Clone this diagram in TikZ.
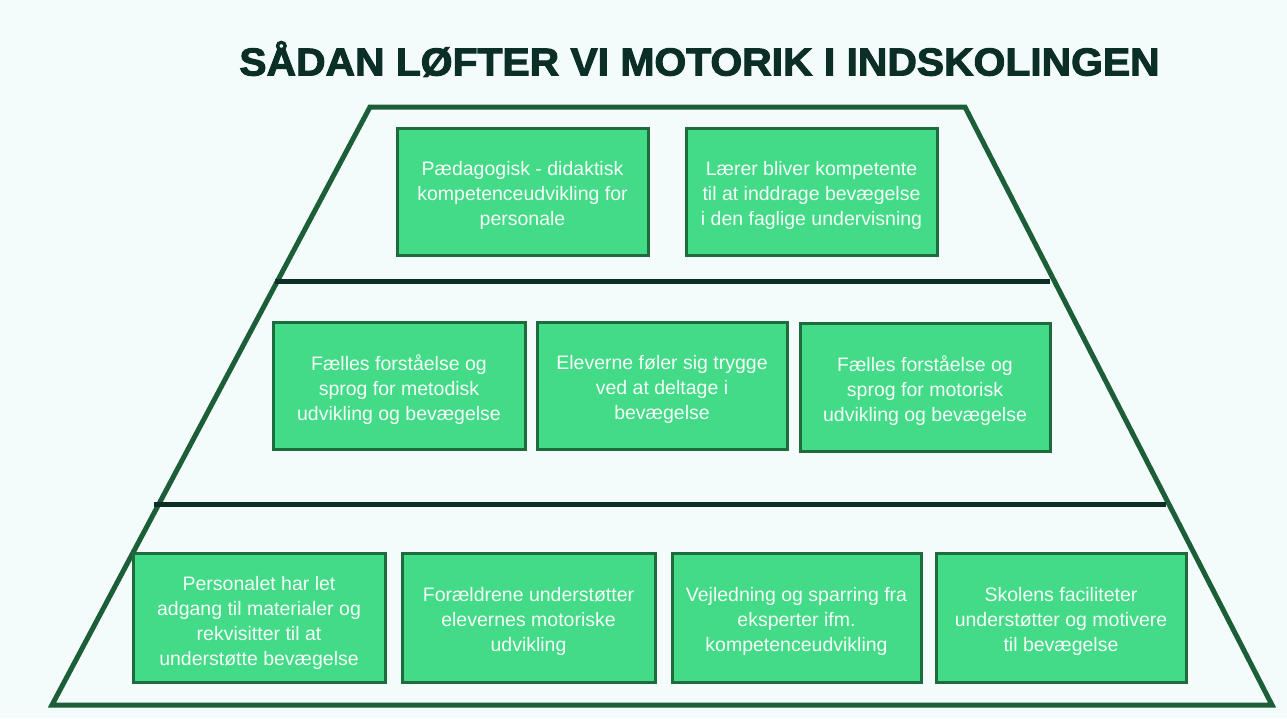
\documentclass[tikz,border=0pt]{standalone}
\usepackage{fontspec}
\setmainfont{Liberation Sans}
\newfontfamily\titlefont{Liberation Sans}[BoldFeatures={FakeBold=2.5}]
\definecolor{bgc}{HTML}{F4FCFB}
\definecolor{titlec}{HTML}{0B2E26}
\definecolor{trapc}{HTML}{1B5E38}
\definecolor{divc}{HTML}{0B2E26}
\definecolor{boxfill}{HTML}{43DA88}
\definecolor{boxline}{HTML}{1E6B3E}
\definecolor{boxtext}{HTML}{F5FFF8}
\begin{document}
\begin{tikzpicture}[x=1pt,y=-1pt,
  card/.style={draw=boxline,line width=3pt,fill=boxfill,inner sep=0pt},
  cardtext/.style={text=boxtext,align=center,inner sep=0pt,yshift=-4pt,
    font=\fontsize{19.5}{25}\selectfont},
  trap/.style={draw=trapc,line width=5pt,line join=miter},
  divider/.style={draw=divc,line width=5pt}]
\fill[bgc] (0,0) rectangle (1287,718);
\useasboundingbox (0,0) rectangle (1287,718);
% title
\node[text=titlec,anchor=center,inner sep=0pt] (title) at (699.5,59)
  {\scalebox{1.047}[1.0]{\fontsize{39}{39}\selectfont\titlefont\bfseries SÅDAN LØFTER VI MOTORIK I INDSKOLINGEN}};
% trapezoid
\coordinate (tl) at (370,107);
\coordinate (tr) at (965,107);
\coordinate (br) at (1272,705);
\coordinate (bl) at (52,705);
\draw[trap] (tl) -- (tr) -- (br) -- (bl) -- cycle;
% dividers
\coordinate (d1a) at (275,281);
\coordinate (d1b) at (1050,281);
\coordinate (d2a) at (154,504);
\coordinate (d2b) at (1166,504);
\draw[divider] (d1a) -- (d1b);
\draw[divider] (d2a) -- (d2b);
% row 1
\node[card,minimum width=251pt,minimum height=127pt,
  label={[cardtext]center:Pædagogisk - didaktisk\\kompetenceudvikling for\\personale}] (a1) at (522.5,191.5) {};
\node[card,minimum width=251pt,minimum height=127pt,
  label={[cardtext]center:Lærer bliver kompetente\\til at inddrage bevægelse\\i den faglige undervisning}] (a2) at (811.5,191.5) {};
% row 2
\node[card,minimum width=252pt,minimum height=127pt,
  label={[cardtext]center:Fælles forståelse og\\sprog for metodisk\\udvikling og bevægelse}] (b1) at (399,385.5) {};
\node[card,minimum width=250pt,minimum height=127pt,
  label={[cardtext]center:Eleverne føler sig trygge\\ved at deltage i\\bevægelse}] (b2) at (662,385.5) {};
\node[card,minimum width=250pt,minimum height=128pt,
  label={[cardtext]center:Fælles forståelse og\\sprog for motorisk\\udvikling og bevægelse}] (b3) at (925,387) {};
% row 3
\node[card,minimum width=252pt,minimum height=129pt,
  label={[cardtext,yshift=-1pt]center:Personalet har let\\adgang til materialer og\\rekvisitter til at\\understøtte bevægelse}] (c1) at (259,617.5) {};
\node[card,minimum width=253pt,minimum height=129pt,
  label={[cardtext]center:Forældrene understøtter\\elevernes motoriske\\udvikling}] (c2) at (528.5,617.5) {};
\node[card,minimum width=249pt,minimum height=129pt,
  label={[cardtext]center:Vejledning og sparring fra\\eksperter ifm.\\kompetenceudvikling}] (c3) at (796.5,617.5) {};
\node[card,minimum width=250pt,minimum height=129pt,
  label={[cardtext]center:Skolens faciliteter\\understøtter og motivere\\til bevægelse}] (c4) at (1061,617.5) {};
\end{tikzpicture}
\end{document}
